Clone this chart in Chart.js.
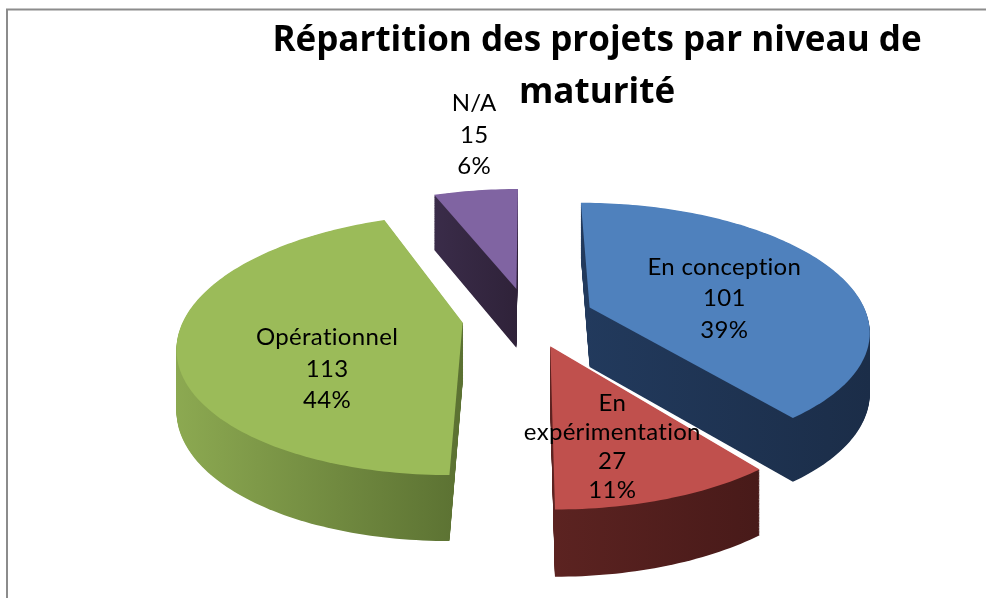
<!DOCTYPE html>
<html lang="fr">
<head>
<meta charset="utf-8">
<title>Répartition des projets par niveau de maturité</title>
<script src="https://cdn.jsdelivr.net/npm/chart.js@4.4.1/dist/chart.umd.min.js"></script>
<style>
    html, body { margin: 0; padding: 0; background: #ffffff; }
    #cadre { position: relative; width: 986px; height: 598px; }
</style>
</head>
<body>
<div id="cadre"><canvas id="graphique-secteurs"></canvas></div>
<script>
// Donnees
const categories = ["En conception", ["En", "expérimentation"], "Opérationnel", "N/A"];
const valeurs = [101, 27, 113, 15];
const titre = ["Répartition des projets par niveau de", "maturité"];

// Couleurs (dessus + cote)
const couleursDessus = ["#4F81BD", "#C0504D", "#9BBB59", "#8064A2"];
const couleursCote = [
    ["#223a5d", "#1b2d48"],
    ["#5c2321", "#481a19"],
    ["#8ca951", "#5b7132"],
    ["#3a2c49", "#2f2239"]
];

// position des etiquettes : fraction de l'angle du secteur, distance / rayon
const positionEtiquettes = [
    { f: 0.55, r: 0.74 },
    { f: 0.57, r: 0.92 },
    { f: 0.378, r: 0.78 },
    { f: 0.64, r: 1.935 }
];

// "camera" pour l'effet 3D
const CENTRE_X = 528;
const CENTRE_Y = 317;
const APLATISSEMENT = 0.45;
const PERSPECTIVE = 0.0006;
const PROFONDEUR = 60;

function projeter(X, Y) {
    const w = 1 + PERSPECTIVE * Y;
    return [CENTRE_X + X / w, CENTRE_Y - APLATISSEMENT * Y / w, w];
}

function pointsSecteur(arc) {
    const decal = arc.options.offset || 0;
    const milieu = (arc.startAngle + arc.endAngle) / 2;
    const cx = Math.cos(milieu) * decal;
    const cy = -Math.sin(milieu) * decal;
    const r = arc.outerRadius;
    const n = Math.max(8, Math.ceil((arc.endAngle - arc.startAngle) / 0.02));
    const pts = [projeter(cx, cy)];
    for (let i = 0; i <= n; i++) {
        const a = arc.startAngle + (arc.endAngle - arc.startAngle) * i / n;
        pts.push(projeter(cx + Math.cos(a) * r, cy - Math.sin(a) * r));
    }
    return pts;
}

// t = 0 : face du dessus, t = 1 : face du dessous
function tracer(ctx, pts, t) {
    ctx.beginPath();
    pts.forEach((p, i) => {
        const y = p[1] + t * PROFONDEUR / Math.sqrt(p[2]);
        if (i === 0) ctx.moveTo(p[0], y);
        else ctx.lineTo(p[0], y);
    });
    ctx.closePath();
}

const total = valeurs.reduce((a, b) => a + b, 0);

const camembert3D = {
    id: "camembert3D",
    beforeDraw(chart) {
        const ctx = chart.ctx;
        ctx.save();
        ctx.strokeStyle = "#8c8c8c";
        ctx.lineWidth = 2;
        ctx.strokeRect(7, 9.5, 1200, 1200);
        ctx.restore();
    },
    beforeDatasetsDraw(chart) {
        const ctx = chart.ctx;
        const arcs = chart.getDatasetMeta(0).data;
        const formes = arcs.map(pointsSecteur);

        ctx.save();
        // cotes
        const degrades = formes.map((pts, i) => {
            const xs = pts.map(p => p[0]);
            const g = ctx.createLinearGradient(Math.min(...xs), 0, Math.max(...xs), 0);
            g.addColorStop(0, couleursCote[i][0]);
            g.addColorStop(1, couleursCote[i][1]);
            return g;
        });
        const etapes = 80;
        for (let s = etapes; s >= 1; s--) {
            formes.forEach((pts, i) => {
                tracer(ctx, pts, s / etapes);
                ctx.fillStyle = degrades[i];
                ctx.fill();
            });
        }
        // dessus
        formes.forEach((pts, i) => {
            tracer(ctx, pts, 0);
            ctx.fillStyle = couleursDessus[i];
            ctx.fill();
        });

        // etiquettes
        ctx.fillStyle = "#000000";
        ctx.font = "24px Lato";
        ctx.letterSpacing = "0.3px";
        ctx.textAlign = "center";
        ctx.textBaseline = "middle";
        arcs.forEach((arc, i) => {
            const pos = positionEtiquettes[i];
            const a = arc.startAngle + (arc.endAngle - arc.startAngle) * pos.f;
            const dist = arc.outerRadius * pos.r;
            const p = projeter(Math.cos(a) * dist, -Math.sin(a) * dist);
            const lignes = [].concat(categories[i]);
            lignes.push(String(valeurs[i]));
            lignes.push(Math.round(valeurs[i] / total * 100) + "%");
            const hauteur = lignes.length > 3 ? 29 : 31.5;
            const y0 = p[1] - (lignes.length - 1) * hauteur / 2;
            lignes.forEach((t, k) => ctx.fillText(t, p[0], y0 + k * hauteur));
        });
        ctx.restore();
        return false;
    }
};

new Chart(document.getElementById("graphique-secteurs"), {
    type: "pie",
    data: {
        labels: categories,
        datasets: [{
            data: valeurs,
            backgroundColor: couleursDessus,
            borderWidth: 0,
            offset: 66
        }]
    },
    options: {
        responsive: true,
        maintainAspectRatio: false,
        animation: false,
        events: [],
        radius: 278,
        layout: { padding: { left: 208 } },
        plugins: {
            legend: { display: false },
            tooltip: { enabled: false },
            title: {
                display: true,
                text: titre,
                color: "#000000",
                font: { family: "'Open Sans'", size: 35, weight: "bold", lineHeight: "52px" },
                padding: { top: 15, bottom: 0 }
            }
        }
    },
    plugins: [camembert3D]
});
</script>
</body>
</html>
